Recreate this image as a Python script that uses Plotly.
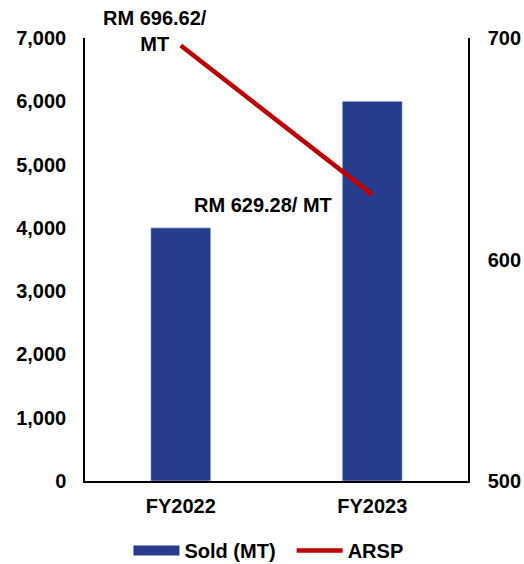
import plotly.graph_objects as go

categories = ["FY2022", "FY2023"]
sold_mt = [4000, 6000]
arsp = [696.62, 629.28]
arsp_labels = ["RM 696.62/<br>MT", "RM 629.28/ MT"]
series_names = ["Sold (MT)", "ARSP"]

BAR = "#283C8E"
RED = "#C00000"
FONT = dict(family="Liberation Sans, Arial, sans-serif", size=20, color="black", weight="bold")

fig = go.Figure()
fig.add_trace(go.Bar(x=categories, y=sold_mt, name=series_names[0], marker_color=BAR,
                     showlegend=False))
fig.add_trace(go.Scatter(x=categories, y=arsp, name=series_names[1], yaxis="y2", mode="lines",
                         line=dict(color=RED, width=4.5), showlegend=False))
# legend entries
fig.add_trace(go.Scatter(x=[None], y=[None], name=series_names[0] + "\u00a0\u00a0", mode="lines",
                         line=dict(color=BAR, width=11)))
fig.add_trace(go.Scatter(x=[None], y=[None], name=series_names[1], mode="lines",
                         line=dict(color=RED, width=4.5)))

fig.add_annotation(x=categories[0], y=arsp[0], yref="y2", text=arsp_labels[0],
                   showarrow=False, xshift=-26, yshift=14, font=FONT)
fig.add_annotation(x=categories[1], y=arsp[1], yref="y2", text=arsp_labels[1],
                   showarrow=False, xshift=-109, yshift=-10, font=FONT)

fig.update_layout(
    width=524, height=564,
    margin=dict(l=85, r=56, t=38, b=83, autoexpand=False),
    plot_bgcolor="white", paper_bgcolor="white",
    font=FONT,
    bargap=0.687,
    xaxis=dict(showline=True, linecolor="black", linewidth=1.5, showgrid=False,
               ticks="", ticklabelstandoff=6, tickfont=FONT, automargin=False),
    yaxis=dict(range=[0, 7000], dtick=1000, tickformat=",", showline=True,
               linecolor="black", linewidth=1.5, showgrid=False, zeroline=False,
               ticks="", ticklabelstandoff=13, tickfont=FONT, automargin=False),
    yaxis2=dict(range=[500, 700], dtick=100, overlaying="y", side="right",
                showline=True, linecolor="black", linewidth=1.5, showgrid=False,
                zeroline=False, ticks="", ticklabelstandoff=14, tickfont=FONT,
                automargin=False),
    legend=dict(orientation="h", x=0.479, xanchor="center", y=-0.157, yanchor="middle",
                font=FONT, itemwidth=46, tracegroupgap=0),
    showlegend=True,
)

fig.write_html(
    "out.html",
    config={"displayModeBar": False},
    post_script="document.body.style.margin='0';document.body.style.overflow='hidden';"
                "document.documentElement.style.overflow='hidden';",
)
